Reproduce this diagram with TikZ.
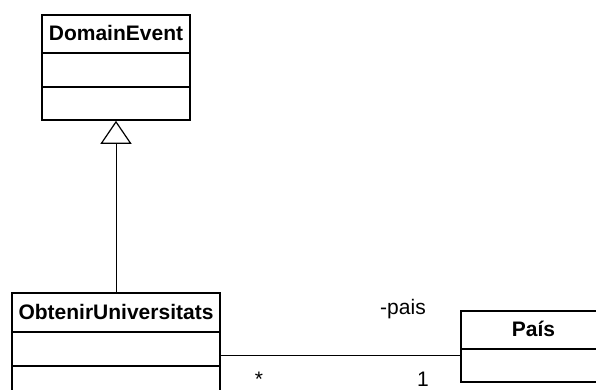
\documentclass[tikz,border=0pt]{standalone}
\usepackage{fontspec}
\setmainfont{Liberation Sans}
\usetikzlibrary{arrows.meta}
\begin{document}
\begin{tikzpicture}[x=1pt,y=-1pt,
  classname/.style={draw, line width=1.6pt, rectangle, inner sep=0pt,
    font=\fontsize{21}{24}\selectfont\bfseries, text height=15pt, text depth=2pt},
  compartment/.style={draw, line width=1.6pt, rectangle, inner sep=0pt},
  assoc/.style={line width=0.9pt},
  inherit/.style={line width=0.9pt, -{Triangle[open, length=23pt, width=31pt, line width=1.2pt]}},
  lbl/.style={font=\fontsize{21}{24}\selectfont, inner sep=0pt}]
\useasboundingbox (0,0) rectangle (596,390);
\clip (0,0) rectangle (596,390);

% DomainEvent class
\node[classname, minimum width=148pt, minimum height=38pt] (de) at (116,34) {DomainEvent};
\node[compartment, minimum width=148pt, minimum height=34pt] (de1) at (116,70) {};
\node[compartment, minimum width=148pt, minimum height=33pt] (de2) at (116,103.5) {};

% ObtenirUniversitats class
\node[classname, minimum width=208pt, minimum height=39pt] (ou) at (116,312.5) {ObtenirUniversitats};
\node[compartment, minimum width=208pt, minimum height=34pt] (ou1) at (116,349) {};
\node[compartment, minimum width=208pt, minimum height=34pt] (ou2) at (116,383) {};

% País class
\node[classname, minimum width=145pt, minimum height=38pt] (pa) at (533.5,330) {País};
\node[compartment, minimum width=145pt, minimum height=33pt] (pa1) at (533.5,365.5) {};

% generalization
\draw[inherit] (ou.north) -- (de2.south);

% association
\coordinate (aline) at (0,355);
\draw[assoc] (ou1.east |- aline) -- (pa.west |- aline);
\node[lbl] (role) at (403,309) {-pais};
\node[lbl] (mstar) at (259,379) {*};
\node[lbl] (mone) at (423,379.5) {1};
\end{tikzpicture}
\end{document}
